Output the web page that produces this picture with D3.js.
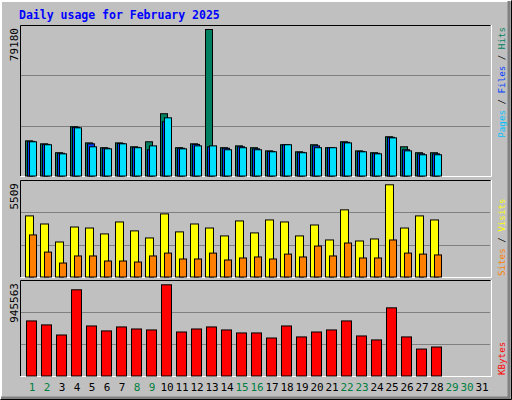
<!DOCTYPE html>
<html><head><meta charset="utf-8">
<script src="https://cdn.jsdelivr.net/npm/d3@7"></script>
<style>body{margin:0;background:#fff}</style></head>
<body><svg id="c" width="512" height="400"></svg>
<script>
const days = d3.range(1, 32);
const weekend = [1,2,8,9,15,16,22,23,29,30];
const hits  = [19200,17600,12800,26800,18100,15500,18100,16000,18700,33800,15500,17600,79180,15500,16500,15500,13800,17100,13300,17100,15500,18700,13800,12800,21400,16000,12800,12800];
const files = [18900,17300,12500,26500,17600,15200,17800,15700,14400,29500,15200,17300,16000,15200,16000,14900,13500,17100,13000,16500,15500,18400,13500,12500,21100,14400,12200,12200];
const pages = [18700,17100,12200,26200,16000,14900,17600,15500,16500,31600,14900,16500,16500,14400,15500,14400,13300,17100,12800,15500,15500,18100,13300,12200,20800,13800,11700,11700];
const visits = [3660,3180,2110,3000,2940,2590,3300,2770,2350,3780,2710,3180,2940,2470,3360,2650,3420,3300,2470,3120,2230,4020,2170,2290,5509,2940,3660,3420];
const sites  = [2530,1510,860,1280,1280,980,980,920,1280,1450,1100,1100,1450,1040,1160,1220,1100,1390,1220,1870,1280,2050,1160,1160,2230,1450,1390,1340];
const kbytes = [573000,532000,428000,894000,521000,470000,511000,490000,480000,945563,459000,490000,511000,480000,449000,449000,397000,521000,408000,459000,480000,573000,418000,377000,708000,408000,283000,304000];
const maxLabels = ["79180","5509","945563"];

const svg = d3.select("#c");
const font = "'DejaVu Sans Mono', monospace";
svg.append("rect").attr("x",0).attr("y",0).attr("width",512).attr("height",400).attr("fill","#C0C0C0");
svg.append("path").attr("d","M1,399V1H511").attr("stroke","#fff").attr("stroke-width",2).attr("fill","none");
svg.append("path").attr("d","M1,398H509V1").attr("stroke","#808080").attr("stroke-width",3).attr("fill","none");
svg.append("path").attr("d","M0.5,399.5H511.5V0.5").attr("stroke","#000").attr("fill","none");
svg.append("text").attr("x",19).attr("y",19).text("Daily usage for February 2025")
  .attr("font-family",font).attr("font-weight","bold").attr("font-size",11.5).attr("fill","#0000FF");

const x = d3.scaleLinear().domain([1,31]).range([25,475]);
const panels = [
  {top:25, bottom:176, peak:29, max:79180},
  {top:180, bottom:277, peak:184.3, max:5509},
  {top:280, bottom:376, peak:284.3, max:945563}
];
panels.forEach((p,i)=>{
  p.y = d3.scaleLinear().domain([0,p.max]).range([p.bottom,p.peak]);
  svg.append("path").attr("d",`M20.5,${p.bottom}V${p.top+0.5}H490.5`).attr("stroke","#000").attr("fill","none");
  svg.append("path").attr("d",`M20.5,${p.bottom+0.5}H491.5V${p.top}`).attr("stroke","#fff").attr("fill","none");
  const h = p.bottom - p.top;
  [1,2].forEach(k=>{
    const gy = Math.round(p.top + h*k/3)+0.5;
    svg.append("line").attr("x1",21).attr("x2",490).attr("y1",gy).attr("y2",gy).attr("stroke","#808080");
  });
  svg.append("text").attr("transform",`translate(18,${p.top+3}) rotate(-90)`).attr("text-anchor","end")
    .attr("font-family",font).attr("font-size",11).attr("fill","#000").text(maxLabels[i]);
});

function bars(data, panel, off, w, color){
  svg.append("g").selectAll("rect").data(data).join("rect")
    .attr("x",(d,i)=>x(i+1)+off+0.5).attr("width",w)
    .attr("y",d=>panel.y(d)+0.5).attr("height",d=>panel.bottom-panel.y(d)-0.5)
    .attr("fill",color).attr("stroke","#000");
}
bars(hits, panels[0], 0, 7, "#008060");
bars(files, panels[0], 2, 7, "#0040FF");
bars(pages, panels[0], 4, 7, "#00E0FF");
bars(visits, panels[1], 0, 8, "#FFFF00");
bars(sites, panels[1], 4, 7, "#FF8000");
bars(kbytes, panels[2], 1, 10, "#FF0000");

svg.append("g").selectAll("text").data(days).join("text")
  .attr("x",d=>x(d)+7).attr("y",391).attr("text-anchor","middle")
  .attr("font-family",font).attr("font-size",11)
  .attr("fill",d=>weekend.includes(d)?"#008040":"#000").text(d=>d);

function legend(parts, y, anchor){
  const t = svg.append("text").attr("transform",`translate(505,${y}) rotate(-90)`)
    .attr("text-anchor",anchor).attr("font-family",font).attr("font-size",9.2);
  parts.forEach(([s,c])=>t.append("tspan").attr("fill",c).text(s));
}
legend([["Pages","#00C0FF"],[" / ","#000"],["Files","#0040FF"],[" / ","#000"],["Hits","#008060"]], 27, "end");
legend([["Sites","#FF8000"],[" / ","#000"],["Visits","#FFFF00"]], 276, "start");
legend([["KBytes","#FF0000"]], 375, "start");
</script></body></html>
